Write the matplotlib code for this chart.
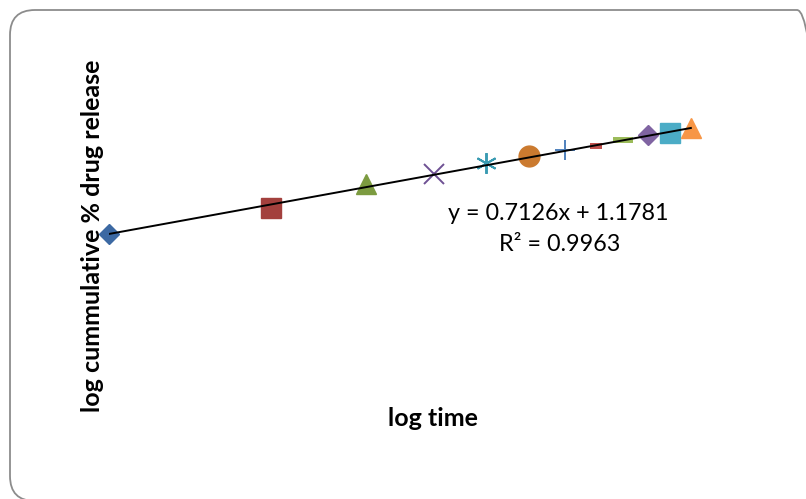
import numpy as np
import matplotlib
matplotlib.use("Agg")
import matplotlib.pyplot as plt
from matplotlib.patches import FancyBboxPatch

# release times (h) and log cumulative % drug release, one marker style per point
time_h = [1, 2, 3, 4, 5, 6, 7, 8, 9, 10, 11, 12]
log_release = [1.178, 1.367, 1.540, 1.614, 1.692, 1.743, 1.787, 1.817, 1.858, 1.896, 1.910, 1.947]
marker_styles = ['D', 's', '^', 'x', '*', 'o', '+', '_', '_', 'D', 's', '^']
marker_colors = ['#3C69A3', '#A3403D', '#7C9B40', '#6E5193', '#3A9BB2', '#CB7A2F',
                 '#4F81BD', '#C0504D', '#9BBB59', '#8064A2', '#4BACC6', '#F79646']

# trendline reported by the spreadsheet
slope = 0.7126
intercept = 1.1781
r_squared = 0.9963

log_time = np.log10(time_h)

W, H = 806, 499
fig = plt.figure(figsize=(W / 100, H / 100), dpi=100)

# rounded chart border
border = FancyBboxPatch((10 / W, 1 - 501 / H), (822 - 10) / W, (501 - 10) / H,
                        boxstyle="round,pad=0,rounding_size=0.031",
                        transform=fig.transFigure, fill=False,
                        edgecolor='#8C8C8C', linewidth=1.3, mutation_aspect=W / H)
fig.patches.append(border)

left, right = 109, 756
top, bottom = 51.8, 396.3
ax = fig.add_axes([left / W, 1 - bottom / H, (right - left) / W, (bottom - top) / H])
ax.set_xlim(0, 1.2)
ax.set_ylim(0, 2.5)
ax.axis('off')

xs = np.array([log_time.min(), log_time.max()])
ax.plot(xs, slope * xs + intercept, color='black', linewidth=1.4, zorder=3)

for x, y, m, c in zip(log_time, log_release, marker_styles, marker_colors):
    kw = dict(marker=m, color=c, linestyle='none', zorder=2, clip_on=False)
    if m == 'D':
        kw.update(markersize=10.4)
    elif m in ('s', 'o'):
        kw.update(markersize=15)
    elif m == '^':
        kw.update(markersize=15)
    elif m == 'x':
        kw.update(markersize=14, markeredgewidth=1.4)
    elif m == '*':
        kw.update(markersize=15, marker=(6, 2, 0), markeredgewidth=1.4)
    elif m == '+':
        kw.update(markersize=14, markeredgewidth=1.4)
    elif m == '_':
        kw.update(markeredgewidth=4.3)
    ax.plot([x], [y], **kw)
# dash widths differ in the original
ax.lines[8].set_markersize(9)
ax.lines[9].set_markersize(14.5)

fig.text(558 / W, 1 - 213 / H, 'y = %.4fx + %.4f' % (slope, intercept), ha='center', va='center',
         fontsize=16.8, family='Lato')
fig.text(560 / W, 1 - 245 / H, 'R² = %.4f' % r_squared, ha='center', va='center',
         fontsize=16.8, family='Lato')

fig.text(433 / W, 1 - 419 / H, 'log time', ha='center', va='center',
         fontsize=18, fontweight='bold', family='Lato')
fig.text(93 / W, 1 - 236 / H, 'log cummulative % drug release', ha='center', va='center',
         rotation=90, fontsize=18, fontweight='bold', family='Lato')

fig.savefig('out.png', dpi=100)
